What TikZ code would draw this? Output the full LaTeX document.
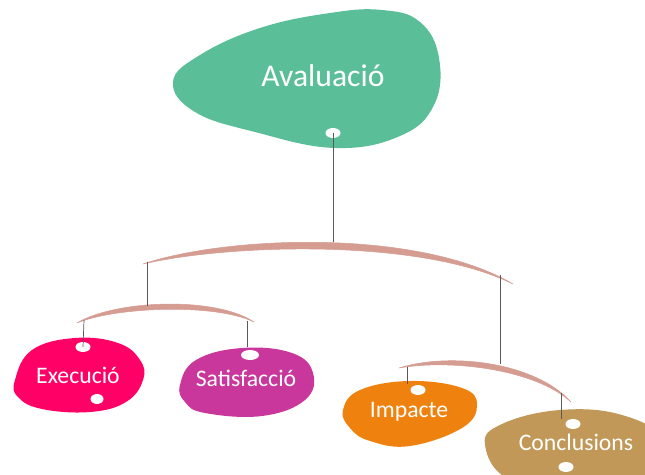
\documentclass[tikz,border=0pt]{standalone}
\usepackage{fontspec}
\setmainfont{Carlito}
\usetikzlibrary{shapes.geometric}
\definecolor{avgreen}{HTML}{5ABF98}
\definecolor{exred}{HTML}{FF0066}
\definecolor{satpurple}{HTML}{CA379C}
\definecolor{imporange}{HTML}{EF820E}
\definecolor{contan}{HTML}{C19858}
\definecolor{barpink}{HTML}{D59C92}
\begin{document}
\begin{tikzpicture}[x=0.02cm,y=-0.02cm,
  label/.style={text=white,font=\fontsize{13.5}{16}\selectfont},
  hole/.style={ellipse,fill=white,draw=none,minimum width=0.3cm,minimum height=0.2cm,inner sep=0pt},
  bar/.style={fill=barpink,draw=barpink,line width=0.3pt},
  string/.style={draw=black!65,line width=0.4pt}]
  \useasboundingbox (0,0) rectangle (645,475);
  \clip (0,0) rectangle (645,475);
  % blobs
  \fill[avgreen] plot[smooth cycle,tension=0.7] coordinates {(173,82) (200,55) (260,28) (330,13) (382,10) (420,22) (439,58) (434,105) (400,136) (335,148) (255,132) (195,112)};
  \fill[exred] plot[smooth cycle,tension=0.7] coordinates {(15,380) (32,350) (75,338) (118,343) (140,360) (143,380) (126,402) (90,412) (42,409) (18,397)};
  \fill[satpurple] plot[smooth cycle,tension=0.7] coordinates {(180,385) (196,360) (242,348) (292,353) (313,373) (305,400) (262,416) (205,413) (185,402)};
  \fill[imporange] plot[smooth cycle,tension=0.7] coordinates {(343,410) (360,390) (410,381) (462,388) (477,405) (462,428) (410,446) (370,441) (350,428)};
  \fill[contan] plot[smooth cycle,tension=0.7] coordinates {(485,445) (502,424) (560,410) (622,415) (662,440) (652,482) (580,492) (510,480)};
  % texts
  \node[label,font=\fontsize{18}{22}\selectfont] (aval) at (323,76) {Avaluació};
  \node[label] (exec) at (78,375) {Execució};
  \node[label] (sat) at (246,378) {Satisfacció};
  \node[label] (imp) at (409,412) {Impacte};
  \node[label] (conc) at (576,442) {Conclusions};
  % holes
  \node[hole] (hAval) at (333,133) {};
  \node[hole] (hExec) at (83,347) {};
  \node[hole,minimum width=0.26cm] (hExecB) at (97,399) {};
  \node[hole,minimum width=0.36cm] (hSat) at (250,355) {};
  \node[hole] (hImp) at (418,390) {};
  \node[hole] (hConc) at (573,424) {};
  \node[hole] (hConcB) at (566,467) {};
  % bars (tapered)
  \draw[bar] (143,264) .. controls (230,235) and (420,229) .. (513,284)
    .. controls (420,238) and (230,244) .. cycle;
  \draw[bar] (77,323) .. controls (115,300) and (215,296) .. (254,322)
    .. controls (215,303) and (115,307) .. cycle;
  \draw[bar] (399,368) .. controls (450,352) and (535,362) .. (571,402)
    .. controls (535,369) and (450,359) .. cycle;
  % hooks on bars and ends of strings
  \coordinate (tMid) at (333,242);
  \coordinate (tLeft) at (147,262);
  \coordinate (tRight) at (500,275);
  \coordinate (lMid) at (147,306);
  \coordinate (lLeft) at (84,320);
  \coordinate (lRight) at (247,321);
  \coordinate (rMid) at (500,364);
  \coordinate (rLeft) at (407,367);
  \coordinate (rRight) at (561,393);
  \coordinate (sSat) at (247,347);
  \coordinate (sImp) at (407,384);
  \coordinate (sConc) at (561,419);
  % strings
  \draw[string] (hAval.center) -- (tMid);
  \draw[string] (tLeft) -- (lMid);
  \draw[string] (tRight) -- (rMid);
  \draw[string] (lLeft) -- (hExec.center);
  \draw[string] (lRight) -- (sSat);
  \draw[string] (rLeft) -- (sImp);
  \draw[string] (rRight) -- (sConc);
\end{tikzpicture}
\end{document}
